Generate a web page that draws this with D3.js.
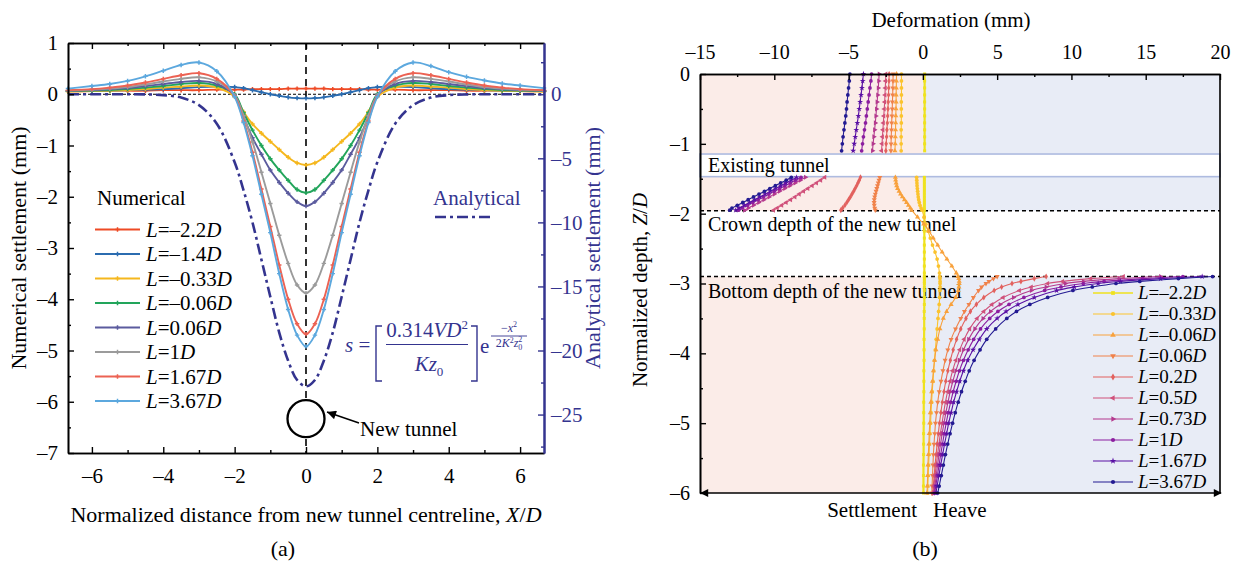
<!DOCTYPE html>
<html>
<head>
<meta charset="utf-8">
<script src="https://cdn.jsdelivr.net/npm/d3@7/dist/d3.min.js"></script>
<style>
html,body{margin:0;padding:0;background:#fff;}
svg{display:block;}
text{font-family:"Liberation Serif","Times New Roman",Times,serif;}
</style>
</head>
<body>
<svg id="chart" width="1240" height="570" xmlns="http://www.w3.org/2000/svg"></svg>
<script>
// ================= Panel (a) data =================
const xPos = [-6.67,-6,-5.5,-5,-4.5,-4,-3.5,-3,-2.5,-2,-1.75,-1.5,-1.25,-1,-0.75,-0.5,-0.25,0,0.25,0.5,0.75,1,1.25,1.5,1.75,2,2.5,3,3.5,4,4.5,5,5.5,6,6.67];
const numCats = ["–2.2","–1.4","–0.33","–0.06","0.06","1","1.67","3.67"];
const numL_m22 = [0.06,0.06,0.07,0.07,0.07,0.08,0.08,0.08,0.09,0.09,0.09,0.1,0.1,0.1,0.1,0.11,0.11,0.11,0.11,0.11,0.1,0.1,0.1,0.1,0.09,0.09,0.09,0.08,0.08,0.08,0.07,0.07,0.07,0.06,0.06];
const numL_m14 = [0.06,0.07,0.07,0.08,0.09,0.1,0.12,0.14,0.15,0.14,0.12,0.08,0.04,0.0,-0.03,-0.06,-0.075,-0.08,-0.075,-0.06,-0.03,0.0,0.04,0.08,0.12,0.14,0.15,0.14,0.12,0.1,0.09,0.08,0.07,0.07,0.06];
const numL_m033 = [0.05,0.06,0.07,0.08,0.1,0.13,0.15,0.17,0.13,-0.05,-0.34,-0.58,-0.76,-0.92,-1.08,-1.23,-1.34,-1.38,-1.34,-1.23,-1.08,-0.92,-0.76,-0.58,-0.34,-0.05,0.13,0.17,0.15,0.13,0.1,0.08,0.07,0.06,0.05];
const numL_m006 = [0.06,0.07,0.08,0.1,0.13,0.16,0.2,0.22,0.17,0.0,-0.36,-0.7,-1.0,-1.26,-1.48,-1.68,-1.86,-1.92,-1.86,-1.68,-1.48,-1.26,-1.0,-0.7,-0.36,0.0,0.17,0.22,0.2,0.16,0.13,0.1,0.08,0.07,0.06];
const numL_006 = [0.07,0.08,0.1,0.12,0.16,0.2,0.24,0.26,0.2,-0.02,-0.44,-0.85,-1.17,-1.48,-1.72,-1.93,-2.1,-2.18,-2.1,-1.93,-1.72,-1.48,-1.17,-0.85,-0.44,-0.02,0.2,0.26,0.24,0.2,0.16,0.12,0.1,0.08,0.07];
const numL_1 = [0.07,0.09,0.11,0.14,0.19,0.25,0.3,0.33,0.25,-0.02,-0.42,-0.93,-1.52,-2.13,-2.75,-3.3,-3.72,-3.88,-3.72,-3.3,-2.75,-2.13,-1.52,-0.93,-0.42,-0.02,0.25,0.33,0.3,0.25,0.19,0.14,0.11,0.09,0.07];
const numL_167 = [0.08,0.1,0.13,0.17,0.23,0.3,0.37,0.41,0.3,-0.04,-0.52,-1.13,-1.85,-2.58,-3.33,-4.0,-4.48,-4.68,-4.48,-4.0,-3.33,-2.58,-1.85,-1.13,-0.52,-0.04,0.3,0.41,0.37,0.3,0.23,0.17,0.13,0.1,0.08];
const numL_367 = [0.11,0.16,0.2,0.26,0.35,0.46,0.57,0.62,0.45,-0.05,-0.55,-1.2,-1.95,-2.7,-3.5,-4.2,-4.7,-4.92,-4.7,-4.2,-3.5,-2.7,-1.95,-1.2,-0.55,-0.05,0.45,0.62,0.55,0.43,0.34,0.27,0.21,0.17,0.12];
const anaS = [0,0,0,0,-0.01,-0.07,-0.26,-0.85,-2.3,-5.3,-7.5,-10.0,-12.9,-15.8,-18.6,-20.8,-22.3,-22.8,-22.3,-20.8,-18.6,-15.8,-12.9,-10.0,-7.5,-5.3,-2.3,-0.85,-0.26,-0.07,-0.01,0,0,0,0];
const tunnelCentreA = -6.33;
const xTicksA = [-6,-4,-2,0,2,4,6];
const xMinorA = [-5,-3,-1,1,3,5];
const yTicksA = [-7,-6,-5,-4,-3,-2,-1,0,1];
const y2TicksA = [0,-5,-10,-15,-20,-25];
const y2MinorA = [2.5,-2.5,-7.5,-12.5,-17.5,-22.5,-27.5];

// ================= Panel (b) data =================
const defCats = ["–2.2","–0.33","–0.06","0.06","0.2","0.5","0.73","1","1.67","3.67"];
const tunTopZ = -1.146, tunBotZ = -1.47, crownZ = -1.96, bottomZ = -2.9;
const zA = [0,-0.1,-0.2,-0.3,-0.4,-0.5,-0.6,-0.7,-0.8,-0.9,-1.0,-1.1];
const zB = [-1.48,-1.52,-1.56,-1.6,-1.64,-1.68,-1.72,-1.76,-1.8,-1.84,-1.88,-1.92,-1.95];
const zC = [-2.05,-2.15,-2.25,-2.35,-2.45,-2.55,-2.65,-2.75,-2.85];
const zD = [-2.9,-2.93,-2.97,-3.0,-3.05,-3.1,-3.2,-3.3,-3.4,-3.5,-3.65,-3.8,-3.95,-4.1,-4.25,-4.4,-4.55,-4.7,-4.85,-5.0,-5.15,-5.3,-5.45,-5.6,-5.75,-5.9,-6.0];
const defA = [
 [0.12,0.12,0.12,0.12,0.12,0.12,0.12,0.12,0.12,0.12,0.12,0.12],
 [-1.44,-1.44,-1.44,-1.44,-1.45,-1.45,-1.45,-1.45,-1.46,-1.46,-1.46,-1.46],
 [-1.77,-1.78,-1.79,-1.8,-1.8,-1.81,-1.82,-1.83,-1.84,-1.85,-1.86,-1.88],
 [-2.0,-2.01,-2.02,-2.03,-2.05,-2.06,-2.08,-2.1,-2.11,-2.13,-2.14,-2.15],
 [-2.27,-2.28,-2.3,-2.31,-2.33,-2.35,-2.37,-2.39,-2.42,-2.44,-2.47,-2.49],
 [-2.49,-2.51,-2.53,-2.55,-2.57,-2.6,-2.63,-2.66,-2.69,-2.72,-2.75,-2.78],
 [-2.94,-2.97,-3.0,-3.04,-3.08,-3.12,-3.16,-3.2,-3.25,-3.3,-3.35,-3.39],
 [-3.45,-3.5,-3.56,-3.62,-3.68,-3.74,-3.8,-3.86,-3.93,-4.0,-4.06,-4.12],
 [-4.0,-4.05,-4.1,-4.16,-4.22,-4.28,-4.34,-4.41,-4.48,-4.55,-4.62,-4.69],
 [-4.91,-4.95,-5.0,-5.05,-5.1,-5.14,-5.19,-5.25,-5.31,-5.37,-5.42,-5.47]
];
const defB = [
 [0.1,0.1,0.1,0.1,0.1,0.1,0.1,0.1,0.1,0.1,0.1,0.1,0.1],
 [-0.42,-0.41,-0.4,-0.39,-0.37,-0.35,-0.33,-0.31,-0.28,-0.24,-0.19,-0.12,-0.06],
 [-1.85,-1.83,-1.8,-1.76,-1.7,-1.6,-1.5,-1.38,-1.24,-1.1,-0.97,-0.84,-0.75],
 [-2.9,-2.95,-3.0,-3.05,-3.1,-3.15,-3.2,-3.24,-3.27,-3.28,-3.27,-3.24,-3.2],
 [-4.2,-4.28,-4.37,-4.46,-4.56,-4.66,-4.77,-4.88,-5.0,-5.12,-5.25,-5.4,-5.52],
 [-6.6,-6.88,-7.16,-7.45,-7.74,-8.03,-8.32,-8.61,-8.9,-9.2,-9.5,-9.8,-10.05],
 [-7.9,-8.25,-8.6,-8.95,-9.3,-9.65,-10.0,-10.35,-10.7,-11.05,-11.4,-11.75,-12.0],
 [-8.2,-8.56,-8.92,-9.28,-9.64,-10.0,-10.36,-10.72,-11.08,-11.44,-11.8,-12.16,-12.4],
 [-8.5,-8.86,-9.22,-9.57,-9.92,-10.27,-10.62,-10.97,-11.32,-11.67,-12.02,-12.37,-12.6],
 [-8.85,-9.2,-9.57,-9.93,-10.3,-10.66,-11.03,-11.4,-11.76,-12.12,-12.49,-12.85,-13.0]
];
const defC = [
 [0.1,0.1,0.1,0.1,0.1,0.1,0.1,0.1,0.1],
 [0.08,0.2,0.35,0.5,0.65,0.82,0.96,1.05,1.12],
 [-0.36,0.06,0.42,0.7,1.0,1.3,1.62,1.95,2.25]
];
const defD = [
 [0.1,0.1,0.1,0.1,0.1,0.1,0.1,0.1,0.09,0.09,0.09,0.08,0.08,0.08,0.07,0.07,0.07,0.06,0.06,0.06,0.05,0.05,0.05,0.04,0.04,0.04,0.04],
 [1.14,1.15,1.16,1.16,1.16,1.15,1.13,1.1,1.06,1.02,0.96,0.9,0.84,0.78,0.73,0.68,0.63,0.59,0.55,0.52,0.48,0.45,0.42,0.39,0.36,0.34,0.32],
 [2.36,2.42,2.45,2.45,2.43,2.38,2.2,1.9,1.6,1.38,1.15,1.0,0.88,0.79,0.71,0.65,0.59,0.54,0.5,0.46,0.43,0.4,0.37,0.34,0.32,0.3,0.28],
 [5.0,4.75,4.45,4.25,3.95,3.75,3.4,3.1,2.8,2.55,2.2,1.9,1.68,1.5,1.35,1.22,1.1,1.0,0.92,0.85,0.8,0.75,0.71,0.68,0.65,0.62,0.6],
 [8.3,7.5,6.6,6.0,5.3,4.8,4.1,3.6,3.2,2.9,2.55,2.27,2.04,1.85,1.68,1.54,1.42,1.31,1.21,1.12,1.04,0.96,0.89,0.82,0.76,0.7,0.66],
 [13.5,11.3,9.4,8.4,7.3,6.5,5.4,4.65,4.1,3.65,3.15,2.78,2.48,2.22,2.0,1.82,1.66,1.52,1.4,1.29,1.18,1.08,0.99,0.9,0.82,0.75,0.7],
 [16.0,13.2,10.8,9.6,8.3,7.3,6.1,5.2,4.55,4.05,3.5,3.08,2.74,2.46,2.22,2.02,1.84,1.69,1.55,1.42,1.3,1.19,1.09,0.99,0.9,0.81,0.75],
 [17.5,14.8,12.2,10.8,9.3,8.2,6.8,5.8,5.05,4.5,3.88,3.42,3.05,2.73,2.46,2.24,2.04,1.87,1.71,1.57,1.44,1.32,1.2,1.09,0.98,0.87,0.8],
 [18.8,16.0,13.3,11.8,10.2,9.0,7.5,6.4,5.6,5.0,4.3,3.8,3.38,3.02,2.73,2.48,2.27,2.07,1.9,1.74,1.6,1.46,1.33,1.2,1.08,0.96,0.88],
 [19.5,17.2,14.6,13.0,11.4,10.1,8.4,7.2,6.3,5.65,4.9,4.3,3.85,3.45,3.12,2.85,2.6,2.38,2.18,2.0,1.83,1.67,1.52,1.38,1.24,1.1,1.0]
];
const xTicksB = [-15,-10,-5,0,5,10,15,20];
const xMinorB = [-12.5,-7.5,-2.5,2.5,7.5,12.5,17.5];
const yTicksB = [0,-1,-2,-3,-4,-5,-6];
const yMinorB = [-0.5,-1.5,-2.5,-3.5,-4.5,-5.5];

// ================= styles =================
const navy = "#34348f";
const colorsA = ["#ee4a25","#2b6cb0","#f5b71d","#22a55b","#5b5b9e","#9b9b9b","#ec6253","#5ca8de"];
const colorsB = ["#efe21e","#fbc32e","#f8a13c","#f0824a","#e2615e","#d0507a","#b4398e","#8c1ea0","#5a10a4","#231a92"];
const symB = [
 [d3.symbolSquare,0],[d3.symbolCircle,0],[d3.symbolTriangle,0],[d3.symbolTriangle,180],[d3.symbolDiamond,0],
 [d3.symbolTriangle,-90],[d3.symbolTriangle,90],[d3.symbolCircle,0],[d3.symbolStar,0],[d3.symbolCircle,0]
];
const fmt = d => d < 0 ? "–" + Math.abs(d) : String(d);

const svg = d3.select("#chart");
const defs = svg.append("defs");
defs.append("marker").attr("id","arrA").attr("viewBox","0 0 10 10").attr("refX",10).attr("refY",5)
  .attr("markerWidth",11).attr("markerHeight",9).attr("markerUnits","userSpaceOnUse").attr("orient","auto")
  .append("path").attr("d","M0,0L10,5L0,10Z").attr("fill","#000");
defs.append("marker").attr("id","arrB").attr("viewBox","0 0 10 10").attr("refX",9).attr("refY",5)
  .attr("markerWidth",14).attr("markerHeight",8).attr("markerUnits","userSpaceOnUse").attr("orient","auto-start-reverse")
  .append("path").attr("d","M0,0L10,5L0,10Z").attr("fill","#000");

function rich(g, x, y, parts, size, fill, anchor) {
  const t = g.append("text").attr("x",x).attr("y",y).attr("font-size",size)
    .attr("fill",fill||"#000").attr("text-anchor",anchor||"start");
  parts.forEach(p => {
    const s = t.append("tspan").text(p[0]).attr("font-style", p[1] ? "italic" : "normal");
    if (p[2]) s.attr("dy", p[2]);
    if (p[3]) s.attr("font-size", p[3]);
    if (p[4]) s.attr("dx", p[4]);
  });
  return t;
}
function styleAxis(g, color, size) {
  g.selectAll("path.domain").attr("stroke", color).attr("stroke-width", 1.6);
  g.selectAll(".tick line").attr("stroke", color).attr("stroke-width", 1.4);
  g.selectAll(".tick text").attr("fill", color).attr("font-size", size)
    .style("font-family",'"Liberation Serif","Times New Roman",serif');
}

// ================= Panel (a) =================
const A = {l:68, r:544, t:43, b:453};
const xA = d3.scaleLinear().domain([-6.67,6.67]).range([A.l,A.r]);
const yA = d3.scaleLinear().domain([-7,1]).range([A.b,A.t]);
const yA2 = d3.scaleLinear().domain([-28,4]).range([A.b,A.t]);
const gA = svg.append("g");

// reference lines
gA.append("line").attr("x1",xA(-6.67)).attr("x2",xA(6.67)).attr("y1",yA(0)).attr("y2",yA(0))
  .attr("stroke","#000").attr("stroke-width",1).attr("stroke-dasharray","3,2");
gA.append("line").attr("x1",xA(0)).attr("x2",xA(0)).attr("y1",yA(1)).attr("y2",yA(-7))
  .attr("stroke","#000").attr("stroke-width",1.6).attr("stroke-dasharray","7,5");

// numerical series
const numSeries = [numL_m22,numL_m14,numL_m033,numL_m006,numL_006,numL_1,numL_167,numL_367];
const lineA = d3.line().x((d,i)=>xA(xPos[i])).y(d=>yA(d)).curve(d3.curveCatmullRom.alpha(0.5));
const crossSym = d3.symbol().type(d3.symbolCross).size(11);
numSeries.forEach((s, k) => {
  gA.append("path").datum(s).attr("d", lineA).attr("fill","none")
    .attr("stroke", colorsA[k]).attr("stroke-width", 1.9);
  gA.selectAll(null).data(s).enter().append("path").attr("d", crossSym)
    .attr("transform",(d,i)=>`translate(${xA(xPos[i])},${yA(d)})`).attr("fill", colorsA[k]);
});
// analytical
const lineA2 = d3.line().x((d,i)=>xA(xPos[i])).y(d=>yA2(d)).curve(d3.curveCatmullRom.alpha(0.5));
gA.append("path").datum(anaS).attr("d", lineA2).attr("fill","none").attr("stroke", navy)
  .attr("stroke-width",2.6).attr("stroke-dasharray","11,4,3,4");

// new tunnel circle
gA.append("circle").attr("cx",xA(0)).attr("cy",yA(tunnelCentreA)).attr("r",18.5)
  .attr("fill","#fff").attr("stroke","#000").attr("stroke-width",2.3);
gA.append("line").attr("x1",359).attr("y1",423).attr("x2",327).attr("y2",412)
  .attr("stroke","#000").attr("stroke-width",1.5).attr("marker-end","url(#arrA)");
gA.append("text").attr("x",360).attr("y",436).attr("font-size",21).text("New tunnel");

// axes
const axL = gA.append("g").attr("transform",`translate(${A.l},0)`)
  .call(d3.axisLeft(yA).tickValues(yTicksA).tickSize(-6).tickSizeOuter(0).tickPadding(10).tickFormat(fmt));
styleAxis(axL,"#000",21);
const axLm = gA.append("g").attr("transform",`translate(${A.l},0)`)
  .call(d3.axisLeft(yA).tickValues(d3.range(-6.5,1,1)).tickSize(-3).tickSizeOuter(0).tickFormat(""));
styleAxis(axLm,"#000",21);
const axB = gA.append("g").attr("transform",`translate(0,${A.b})`)
  .call(d3.axisBottom(xA).tickValues(xTicksA).tickSize(-6).tickSizeOuter(0).tickPadding(15).tickFormat(fmt));
styleAxis(axB,"#000",21);
const axBm = gA.append("g").attr("transform",`translate(0,${A.b})`)
  .call(d3.axisBottom(xA).tickValues(xMinorA).tickSize(-3).tickSizeOuter(0).tickFormat(""));
styleAxis(axBm,"#000",21);
const axT = gA.append("g").attr("transform",`translate(0,${A.t})`)
  .call(d3.axisTop(xA).tickValues(xTicksA).tickSize(-6).tickSizeOuter(0).tickFormat(""));
styleAxis(axT,"#000",21);
const axTm = gA.append("g").attr("transform",`translate(0,${A.t})`)
  .call(d3.axisTop(xA).tickValues(xMinorA).tickSize(-3).tickSizeOuter(0).tickFormat(""));
styleAxis(axTm,"#000",21);
const axR = gA.append("g").attr("transform",`translate(${A.r},0)`)
  .call(d3.axisRight(yA2).tickValues(y2TicksA).tickSize(-6).tickSizeOuter(0).tickPadding(7).tickFormat(fmt));
styleAxis(axR,navy,21);
axR.select("path.domain").attr("stroke-width",2);
const axRm = gA.append("g").attr("transform",`translate(${A.r},0)`)
  .call(d3.axisRight(yA2).tickValues(y2MinorA).tickSize(-3).tickSizeOuter(0).tickFormat(""));
styleAxis(axRm,navy,21);
axRm.select("path.domain").attr("stroke-width",2);

// axis titles
gA.append("text").attr("transform","translate(26,248) rotate(-90)").attr("text-anchor","middle")
  .attr("font-size",22).text("Numerical settlement (mm)");
gA.append("text").attr("transform","translate(600,248) rotate(-90)").attr("text-anchor","middle")
  .attr("font-size",22).attr("fill",navy).text("Analytical settlement (mm)");
rich(gA, 306, 522, [["Normalized distance from new tunnel centreline, ",false],["X",true],["/",false],["D",true]], 22, "#000", "middle");
gA.append("text").attr("x",283).attr("y",556).attr("text-anchor","middle").attr("font-size",22).text("(a)");

// legend (a)
gA.append("text").attr("x",97).attr("y",205).attr("font-size",21).text("Numerical");
numCats.forEach((c,k) => {
  const y = 229.5 + k*24.5;
  gA.append("line").attr("x1",95).attr("x2",140).attr("y1",y).attr("y2",y).attr("stroke",colorsA[k]).attr("stroke-width",2);
  gA.append("path").attr("d",crossSym).attr("transform",`translate(117.5,${y})`).attr("fill",colorsA[k]);
  rich(gA, 146, y+7, [["L",true],["="+c,false],["D",true]], 21);
});
gA.append("text").attr("x",433).attr("y",205).attr("font-size",21).attr("fill",navy).text("Analytical");
gA.append("line").attr("x1",435).attr("x2",492).attr("y1",217).attr("y2",217).attr("stroke",navy)
  .attr("stroke-width",2.6).attr("stroke-dasharray","11,4,3,4");

// equation
const eq = gA.append("g");
rich(eq, 345, 352, [["s",true],[" =",false]], 21, navy);
eq.append("path").attr("d","M382,326H376V381H382").attr("fill","none").attr("stroke",navy).attr("stroke-width",1.4);
eq.append("path").attr("d","M471,326H477V381H471").attr("fill","none").attr("stroke",navy).attr("stroke-width",1.4);
rich(eq, 427, 337, [["0.314",false],["V",true],["D",true],["2",false,-8,13]], 21, navy, "middle");
eq.append("line").attr("x1",386).attr("x2",468).attr("y1",344.5).attr("y2",344.5).attr("stroke",navy).attr("stroke-width",1.2);
rich(eq, 429, 371, [["K",true],["z",true],["0",false,5,13]], 21, navy, "middle");
rich(eq, 480, 353, [["e",false]], 21, navy);
rich(eq, 509, 332, [["−",false],["x",true],["2",false,-5,8]], 12, navy, "middle");
eq.append("line").attr("x1",491).attr("x2",527).attr("y1",336).attr("y2",336).attr("stroke",navy).attr("stroke-width",0.9);
rich(eq, 509, 347, [["2",false],["K",true],["2",false,-4,8],["z",true,4],["0",false,3,8],["2",false,-8,8,-4]], 12, navy, "middle");

// ================= Panel (b) =================
const B = {l:700, r:1220, t:74, b:493};
const xB = d3.scaleLinear().domain([-15,20]).range([B.l,B.r]);
const yB = d3.scaleLinear().domain([-6,0]).range([B.b,B.t]);
const gB = svg.append("g");
const pink = "#fbece8", blue = "#e8ecf6";
[[0,crownZ],[bottomZ,-6]].forEach(([z1,z2]) => {
  gB.append("rect").attr("x",xB(-15)).attr("y",yB(z1)).attr("width",xB(0)-xB(-15)).attr("height",yB(z2)-yB(z1)).attr("fill",pink);
  gB.append("rect").attr("x",xB(0)).attr("y",yB(z1)).attr("width",xB(20)-xB(0)).attr("height",yB(z2)-yB(z1)).attr("fill",blue);
});
gB.append("rect").attr("x",xB(-15)).attr("y",yB(tunTopZ)).attr("width",xB(20)-xB(-15)).attr("height",yB(tunBotZ)-yB(tunTopZ))
  .attr("fill","#fff").attr("stroke","#aebbe0").attr("stroke-width",1.6);
[crownZ,bottomZ].forEach(z => gB.append("line").attr("x1",xB(-15)).attr("x2",xB(20)).attr("y1",yB(z)).attr("y2",yB(z))
  .attr("stroke","#000").attr("stroke-width",1.5).attr("stroke-dasharray","4,3"));

gB.append("text").attr("x",708).attr("y",172).attr("font-size",20).text("Existing tunnel");
gB.append("text").attr("x",708).attr("y",231).attr("font-size",20).text("Crown depth of the new tunnel");
gB.append("text").attr("x",708).attr("y",298).attr("font-size",20).text("Bottom depth of the new tunnel");

const lineB = d3.line().x(d=>xB(d[1])).y(d=>yB(d[0])).curve(d3.curveCatmullRom.alpha(0.5));
function segs(k) {
  const a = [zA.map((z,i)=>[z,defA[k][i]])];
  const b = zB.map((z,i)=>[z,defB[k][i]]);
  const d = zD.map((z,i)=>[z,defD[k][i]]);
  if (k <= 2) {
    const c = zC.map((z,i)=>[z,defC[k][i]]);
    a.push(b.concat(c, d));
  } else {
    a.push(b); a.push(d);
  }
  return a;
}
defCats.forEach((c,k) => {
  const sym = d3.symbol().type(symB[k][0]).size(k===0 ? 9 : 11);
  segs(k).forEach(seg => {
    gB.append("path").datum(seg).attr("d",lineB).attr("fill","none")
      .attr("stroke",colorsB[k]).attr("stroke-width", k===0 ? 2.2 : 1.1);
    gB.selectAll(null).data(seg).enter().append("path").attr("d",sym)
      .attr("transform",d=>`translate(${xB(d[1])},${yB(d[0])}) rotate(${symB[k][1]})`).attr("fill",colorsB[k]);
  });
});

// axes (b)
const bT = gB.append("g").attr("transform",`translate(0,${B.t})`)
  .call(d3.axisTop(xB).tickValues(xTicksB).tickSize(-6).tickSizeOuter(0).tickPadding(15).tickFormat(fmt));
styleAxis(bT,"#000",20);
const bTm = gB.append("g").attr("transform",`translate(0,${B.t})`)
  .call(d3.axisTop(xB).tickValues(xMinorB).tickSize(-3).tickSizeOuter(0).tickFormat(""));
styleAxis(bTm,"#000",20);
const bL = gB.append("g").attr("transform",`translate(${B.l},0)`)
  .call(d3.axisLeft(yB).tickValues(yTicksB).tickSize(-6).tickSizeOuter(0).tickPadding(10).tickFormat(fmt));
styleAxis(bL,"#000",20);
const bLm = gB.append("g").attr("transform",`translate(${B.l},0)`)
  .call(d3.axisLeft(yB).tickValues(yMinorB).tickSize(-3).tickSizeOuter(0).tickFormat(""));
styleAxis(bLm,"#000",20);
gB.append("line").attr("x1",B.r).attr("x2",B.r).attr("y1",B.t).attr("y2",B.b).attr("stroke","#000").attr("stroke-width",1.6);
gB.append("line").attr("x1",B.l+1).attr("x2",B.r+1).attr("y1",B.b).attr("y2",B.b).attr("stroke","#000").attr("stroke-width",1.6)
  .attr("marker-start","url(#arrB)").attr("marker-end","url(#arrB)");

gB.append("text").attr("x",951).attr("y",27).attr("text-anchor","middle").attr("font-size",21).text("Deformation (mm)");
rich(gB, 0, 0, [["Normalized depth, ",false],["Z",true],["/",false],["D",true]], 21, "#000", "middle")
  .attr("transform","translate(647,290) rotate(-90)");
gB.append("text").attr("x",917).attr("y",517).attr("text-anchor","end").attr("font-size",21).text("Settlement");
gB.append("text").attr("x",933).attr("y",517).attr("font-size",21).text("Heave");
gB.append("text").attr("x",925).attr("y",556).attr("text-anchor","middle").attr("font-size",22).text("(b)");

// legend (b)
defCats.forEach((c,k) => {
  const y = 293 + k*21;
  const sym = d3.symbol().type(symB[k][0]).size(14);
  gB.append("line").attr("x1",1093).attr("x2",1133).attr("y1",y).attr("y2",y).attr("stroke",colorsB[k]).attr("stroke-width", k===0?1.6:1.2);
  gB.append("path").attr("d",sym).attr("transform",`translate(1113,${y}) rotate(${symB[k][1]})`).attr("fill",colorsB[k]);
  rich(gB, 1138, y+6, [["L",true],["="+c,false],["D",true]], 19);
});
</script>
</body>
</html>
